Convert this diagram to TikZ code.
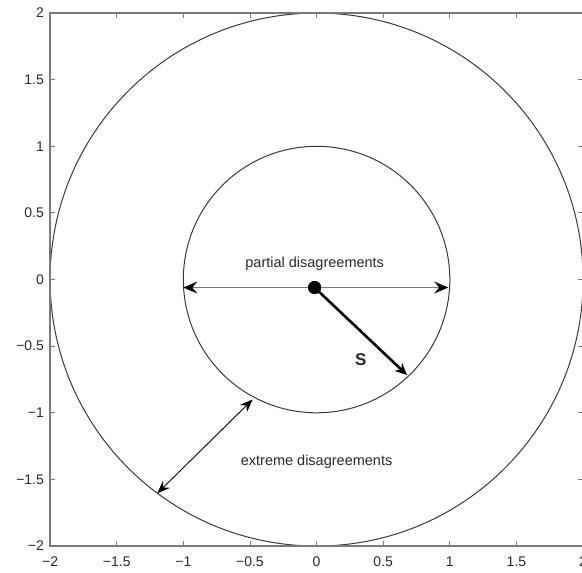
\documentclass[tikz,border=0pt]{standalone}
\usepackage{fontspec}
\setmainfont{Liberation Sans}
\usetikzlibrary{arrows.meta}
\definecolor{framegray}{HTML}{7A7A7A}
\definecolor{circgray}{HTML}{3A3A3A}
\definecolor{txtgray}{HTML}{2A2A2A}
\tikzset{
  headtip/.tip={Stealth[length=14pt,width=12pt,inset=5pt,color=black]},
  stip/.tip={Stealth[length=12pt,width=11pt,inset=4pt]},
  smalltip/.tip={Stealth[length=13pt,width=10pt,inset=4.5pt]}
}
\begin{document}
\begin{tikzpicture}[x=133.25pt,y=133.25pt,
  frame/.style={draw=framegray,line width=1.3pt},
  tickmark/.style={draw=framegray,line width=0.9pt},
  ringline/.style={draw=circgray,line width=1pt},
  ticklbl/.style={font=\fontsize{14}{14}\selectfont,text=txtgray,inner sep=0pt},
  lbl/.style={font=\fontsize{14.5}{15}\selectfont,text=txtgray,inner sep=0pt}]
\useasboundingbox (-2.376,-2.195) rectangle (1.992,2.098);
\fill[white] (-2.376,-2.195) rectangle (1.992,2.098);
% circles
\draw[ringline] (0,0) circle (2);
\draw[ringline] (0,0) circle (1);
% frame
\draw[frame] (-2,-2) rectangle (2,2);
\foreach \v in {-1.5,-1,-0.5,0,0.5,1,1.5}{
  \draw[tickmark] (\v,-2) -- (\v,-1.96);
  \draw[tickmark] (\v,2) -- (\v,1.96);
  \draw[tickmark] (-2,\v) -- (-1.96,\v);
  \draw[tickmark] (2,\v) -- (1.96,\v);
}
% tick labels
\foreach \v/\t [count=\i] in {-2/−2,-1.5/−1.5,-1/−1,-0.5/−0.5,0/0,0.5/0.5,1/1,1.5/1.5,2/2}{
  \node[ticklbl] (xl\i) at (\v,-2.118) {\t};
  \node[ticklbl,anchor=east] (yl\i) at (-2.045,\v) {\t};
}
% centre dot and arrows
\node[circle,fill=black,inner sep=0pt,minimum size=13pt] (c) at (-0.015,-0.06) {};
\coordinate (pl) at (-1.0,-0.06);
\coordinate (pr) at (0.988,-0.06);
\coordinate (sEnd) at (0.679,-0.717);
\coordinate (eIn) at (-0.48,-0.90);
\coordinate (eOut) at (-1.196,-1.605);
\draw[draw=framegray,line width=1.3pt,{headtip}-{headtip}] (pl) -- (pr);
\fill[black] (c.center) circle (6.5pt);
\draw[black,line width=2.6pt,-{stip}] (c.center) -- (sEnd);
\draw[black,line width=0.9pt,{smalltip}-{smalltip}] (eOut) -- (eIn);
% labels
\node[lbl] (pd) at (-0.014,0.122) {partial disagreements};
\node[lbl] (ed) at (0,-1.367) {extreme disagreements};
\node[font=\fontsize{17}{17}\selectfont\bfseries,text=txtgray,inner sep=0pt] (s) at (0.331,-0.599) {S};
\end{tikzpicture}
\end{document}
